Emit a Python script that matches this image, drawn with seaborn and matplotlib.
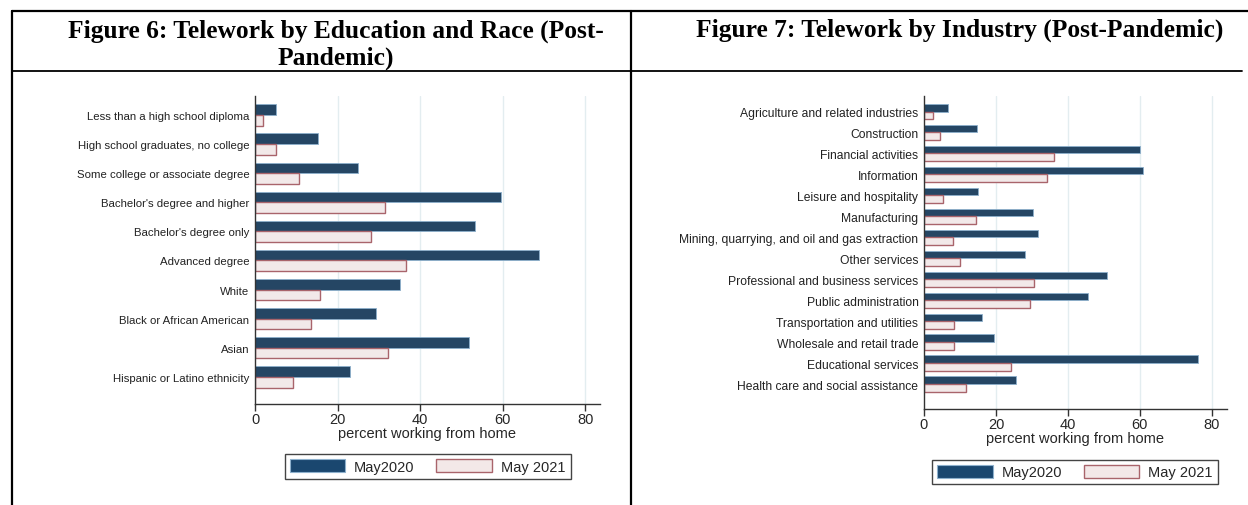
import numpy as np
import pandas as pd
import matplotlib
matplotlib.use("Agg")
import matplotlib.pyplot as plt
from matplotlib.lines import Line2D
from matplotlib.patches import Patch
import seaborn as sns

# ── Data ─────────────────────────────────────────────────────────────────────
edu_groups = ["Less than a high school diploma", "High school graduates, no college",
              "Some college or associate degree", "Bachelor's degree and higher",
              "Bachelor's degree only", "Advanced degree", "White",
              "Black or African American", "Asian", "Hispanic or Latino ethnicity"]
edu_2020 = [5.2, 15.3, 25.0, 59.6, 53.4, 68.8, 35.2, 29.3, 51.8, 23.0]
edu_2021 = [1.9, 5.2, 10.6, 31.4, 28.1, 36.5, 15.7, 13.6, 32.2, 9.2]

industries = ["Agriculture and related industries", "Construction", "Financial activities",
              "Information", "Leisure and hospitality", "Manufacturing",
              "Mining, quarrying, and oil and gas extraction", "Other services",
              "Professional and business services", "Public administration",
              "Transportation and utilities", "Wholesale and retail trade",
              "Educational services", "Health care and social assistance"]
ind_2020 = [6.6, 14.8, 60.0, 60.9, 15.1, 30.2, 31.8, 28.2, 50.9, 45.6, 16.0, 19.5, 76.2, 25.5]
ind_2021 = [2.5, 4.4, 36.1, 34.2, 5.3, 14.4, 8.1, 10.0, 30.7, 29.5, 8.4, 8.4, 24.2, 11.6]

periods = ["May2020", "May 2021"]
x_ticks = [0, 20, 40, 60, 80]

# ── Style ────────────────────────────────────────────────────────────────────
sns.set_theme(style="white")
plt.rcParams["font.family"] = ["Liberation Sans", "DejaVu Sans"]

NAVY, NAVY_EDGE = "#1a476f", "#8db0cc"
PINK, PINK_EDGE = "#f3e8e8", "#a9646b"
GRID = "#e3edf0"
W, H = 1248, 506

fig = plt.figure(figsize=(12.48, 5.06), dpi=100)


def long_df(cats, v1, v2):
    return pd.DataFrame({"cat": cats * 2,
                         "value": v1 + v2,
                         "period": [periods[0]] * len(cats) + [periods[1]] * len(cats)})


def panel(rect, cats, v1, v2, ylim, xmax, label_size):
    ax = fig.add_axes(rect)
    df = long_df(cats, v1, v2)
    sns.barplot(data=df, y="cat", x="value", hue="period", orient="h",
                palette=[NAVY, PINK], width=0.73, gap=0, legend=False, ax=ax)
    for bar in ax.containers[0]:
        bar.set_edgecolor(NAVY_EDGE)
        bar.set_linewidth(0.6)
    for bar in ax.containers[1]:
        bar.set_edgecolor(PINK_EDGE)
        bar.set_linewidth(1.0)
    ax.set_xlim(0, xmax)
    ax.set_ylim(*ylim)
    ax.set_xticks(x_ticks)
    for t in x_ticks[1:]:
        ax.axvline(t, color=GRID, lw=1.0, zorder=0)
    ax.set_axisbelow(True)
    for s in ["top", "right"]:
        ax.spines[s].set_visible(False)
    for s in ["left", "bottom"]:
        ax.spines[s].set_color("#333333")
        ax.spines[s].set_linewidth(1.0)
    ax.tick_params(axis="x", direction="out", length=5, width=1, color="#333333",
                   labelsize=10.5, pad=1, bottom=True)
    ax.tick_params(axis="y", length=0, labelsize=label_size, pad=4,
                   labelcolor="#222222")
    ax.set_ylabel("")
    ax.set_xlabel("percent working from home", fontsize=10.5, labelpad=0)
    return ax


ax1 = panel([255 / W, 1 - 405 / H, 345 / W, 308 / H], edu_groups, edu_2020, edu_2021,
            (9.93, -0.65), 83.6, 8.2)
ax2 = panel([924 / W, 1 - 410 / H, 303 / W, 313 / H], industries, ind_2020, ind_2021,
            (14.19, -0.74), 84.2, 8.7)

# ── Legends ──────────────────────────────────────────────────────────────────
handles = [Patch(facecolor=NAVY, edgecolor=NAVY_EDGE, lw=0.8),
           Patch(facecolor=PINK, edgecolor=PINK_EDGE, lw=1.0)]
for cx, cy in [(427.5, 467.5), (1075, 473)]:
    fig.legend(handles, periods, loc="center", bbox_to_anchor=(cx / W, 1 - cy / H),
               ncol=2, fontsize=10.5, frameon=True, fancybox=False,
               edgecolor="#444444", framealpha=1, handlelength=3.8, handleheight=1.0,
               columnspacing=1.5, handletextpad=0.62, borderpad=0.35)

# ── Table borders and titles ─────────────────────────────────────────────────
def fig_line(x0, y0, x1, y1, lw=1.6):
    fig.add_artist(Line2D([x0 / W, x1 / W], [1 - y0 / H, 1 - y1 / H],
                          color="black", lw=lw, transform=fig.transFigure))

fig_line(12, 12, W, 12)
fig_line(12, 72, 1242, 72, lw=1.3)
fig_line(12, 12, 12, H)
fig_line(631, 12, 631, H)

title_font = dict(family=["Liberation Serif", "DejaVu Serif"], fontweight="bold",
                  fontsize=18.4, color="black")
fig.text(336 / W, 1 - 45 / H, "Figure 6: Telework by Education and Race (Post-\nPandemic)",
         ha="center", va="center", multialignment="center", linespacing=1.2, **title_font)
fig.text(960 / W, 1 - 30 / H, "Figure 7: Telework by Industry (Post-Pandemic)",
         ha="center", va="center", **title_font)

fig.savefig("out.png", dpi=100)
